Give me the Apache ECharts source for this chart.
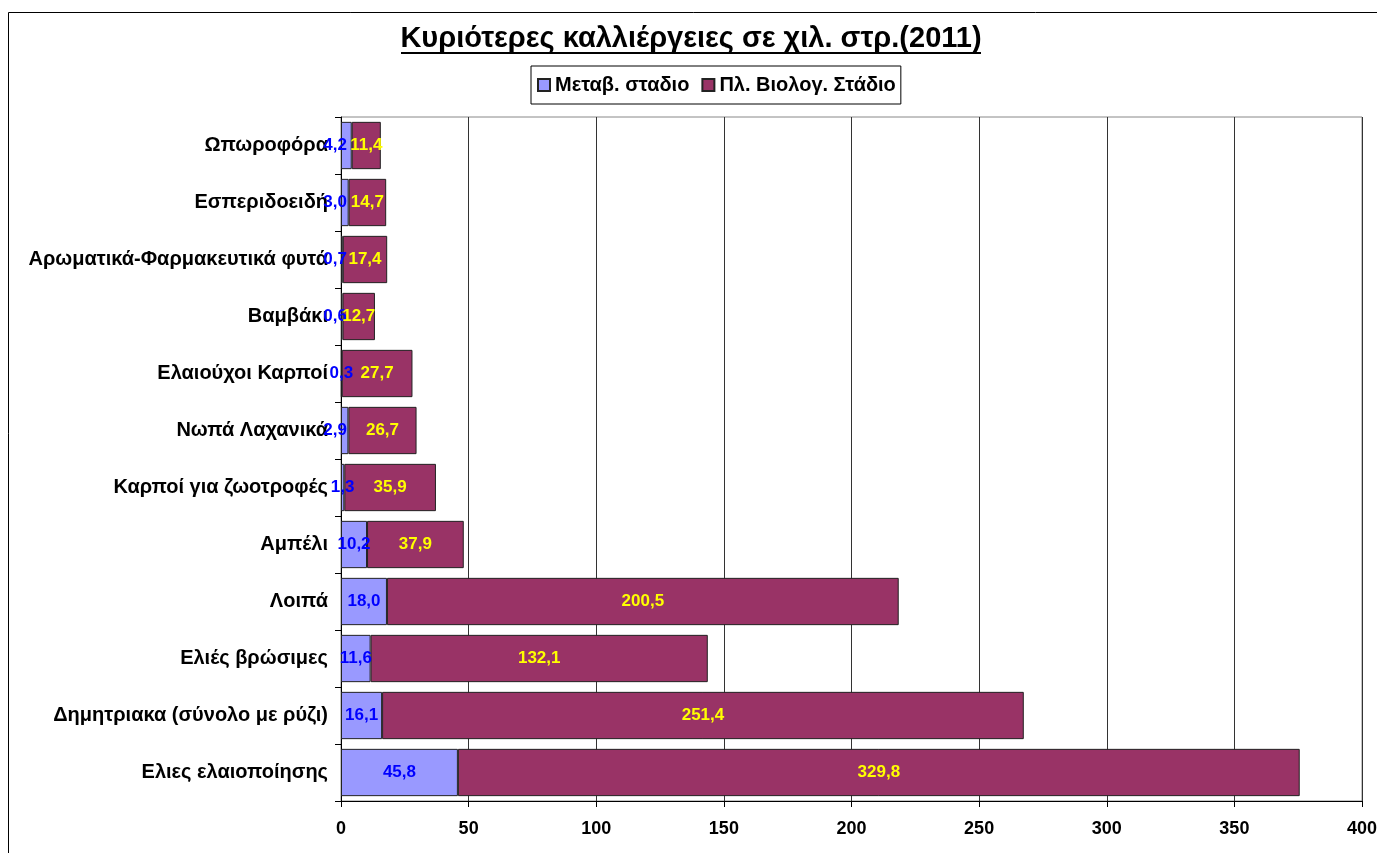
<!DOCTYPE html>
<html><head><meta charset="utf-8">
<script src="https://cdn.jsdelivr.net/npm/echarts@6/dist/echarts.min.js"></script>
<style>html,body{margin:0;padding:0;background:#fff}#c{width:1377px;height:853px}</style>
</head><body><div id="c"></div>
<script>
var categories = ["Ελιες ελαιοποίησης","Δημητριακα (σύνολο με ρύζι)","Ελιές βρώσιμες","Λοιπά","Αμπέλι","Καρποί για ζωοτροφές","Νωπά Λαχανικά","Ελαιούχοι Καρποί","Βαμβάκι","Αρωματικά-Φαρμακευτικά φυτά","Εσπεριδοειδή","Ωπωροφόρα"];
var transitional = [45.8,16.1,11.6,18.0,10.2,1.3,2.9,0.3,0.6,0.7,3.0,4.2];
var organic = [329.8,251.4,132.1,200.5,37.9,35.9,26.7,27.7,12.7,17.4,14.7,11.4];
var xTicks = [0,50,100,150,200,250,300,350,400];
var seriesNames = ["Μεταβ. σταδιο","Πλ. Βιολογ. Στάδιο"];
var titleText = "Κυριότερες καλλιέργειες σε χιλ. στρ.(2011)";
// categories whose small first-segment label sits just left of the axis in the original
var leftLabelCats = ["Νωπά Λαχανικά","Βαμβάκι","Αρωματικά-Φαρμακευτικά φυτά","Εσπεριδοειδή","Ωπωροφόρα"];

var FONT = "Arial, 'Liberation Sans', sans-serif";
var chart = echarts.init(document.getElementById('c'));
function fmt(p){ return p.value.toFixed(1).replace('.', ','); }
var transData = transitional.map(function(v,i){
  if (leftLabelCats.indexOf(categories[i]) >= 0) {
    return {value:v, label:{position:'left', distance:-6}};
  }
  return v;
});
chart.setOption({
  animation:false,
  textStyle:{fontFamily:FONT},
  graphic:[
    {type:'rect', shape:{x:8.5,y:12.5,width:1400,height:900}, style:{fill:'none',stroke:'#000',lineWidth:1}, silent:true, z:-10},
    {type:'text', x:691, y:39, style:{text:titleText, font:'bold 29px '+FONT, fill:'#000', textAlign:'center', textVerticalAlign:'middle'}},
    {type:'rect', shape:{x:401,y:52,width:580,height:2}, style:{fill:'#000'}}
  ],
  legend:{
    top:66, left:531, data:seriesNames,
    itemWidth:12, itemHeight:12, itemGap:12,
    padding:[9,5,9,6], borderColor:'#000', borderWidth:1,
    textStyle:{fontWeight:'bold', fontSize:20, fontFamily:FONT, color:'#000'},
    icon:'rect'
  },
  grid:{left:341, right:15, top:117, bottom:52, show:true, borderColor:'#888', borderWidth:1, outerBoundsMode:'none', containLabel:false},
  xAxis:{
    type:'value', min:0, max:400, interval:50,
    axisLine:{show:true, lineStyle:{color:'#000', width:1}},
    axisTick:{show:true, length:6, lineStyle:{color:'#000'}},
    splitLine:{show:true, lineStyle:{color:'#333', width:1}},
    axisLabel:{fontWeight:'bold', fontSize:18, color:'#000', margin:19,
      formatter:function(v){return xTicks.indexOf(v)>=0?String(v):'';}}
  },
  yAxis:{
    type:'category', data:categories,
    axisLine:{show:true, lineStyle:{color:'#000', width:1}},
    axisTick:{show:true, length:6, lineStyle:{color:'#000'}},
    axisLabel:{fontWeight:'bold', fontSize:20, color:'#000', margin:13}
  },
  series:[
    {name:seriesNames[0], type:'bar', stack:'a', data:transData, barCategoryGap:'17%',
     itemStyle:{color:'#9999ff', borderColor:'#222', borderWidth:1},
     label:{show:true, position:'inside', formatter:fmt, color:'#0000ff', fontWeight:'bold', fontSize:17, fontFamily:FONT}},
    {name:seriesNames[1], type:'bar', stack:'a', data:organic, barCategoryGap:'17%',
     itemStyle:{color:'#993366', borderColor:'#222', borderWidth:1},
     label:{show:true, position:'inside', formatter:fmt, color:'#ffff00', fontWeight:'bold', fontSize:17, fontFamily:FONT}}
  ]
});
</script></body></html>
